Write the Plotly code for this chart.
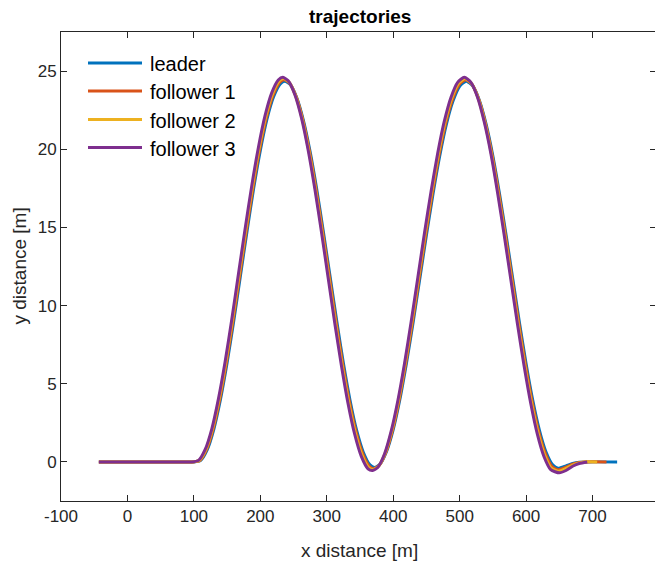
import plotly.graph_objects as go

# ---------------- data ----------------
leader_x = [-43, 0, 50, 90, 100, 110, 120, 130, 140, 150, 160, 170, 180, 190, 200, 210, 220, 230, 237,
            245, 255, 265, 275, 285, 295, 305, 315, 325, 335, 345, 355, 365, 372,
            380, 390, 400, 410, 420, 430, 440, 450, 460, 470, 480, 490, 500, 510,
            520, 530, 540, 550, 560, 570, 580, 590, 600, 610, 620, 630, 640, 648,
            660, 670, 680, 690, 737]
leader_y = [0, 0, 0, 0, 0, 0.09, 0.77, 2.09, 3.99, 6.34, 9.02, 11.89, 14.76, 17.50, 19.93, 21.93, 23.36, 24.18, 24.35,
            24.14, 23.28, 21.82, 19.83, 17.41, 14.70, 11.86, 9.01, 6.32, 3.95, 2.01, 0.62, -0.19, -0.35,
            -0.15, 0.67, 2.07, 3.99, 6.33, 8.94, 11.72, 14.51, 17.17, 19.57, 21.59, 23.08, 24.03, 24.35,
            24.03, 23.09, 21.57, 19.57, 17.15, 14.49, 11.70, 8.91, 6.28, 3.95, 2.03, 0.63, -0.19, -0.40,
            -0.25, -0.10, -0.02, 0, 0]

follower1_x = [-43, 0, 50, 89, 99, 109, 119, 129, 139, 149, 159, 169, 179, 189, 199, 209, 219, 229, 236,
               244, 254, 264, 274, 284, 294, 304, 314, 324, 334, 344, 354, 364, 371,
               379, 389, 399, 409, 419, 429, 439, 449, 459, 469, 479, 489, 499, 509,
               519, 529, 539, 549, 559, 569, 579, 589, 599, 609, 619, 629, 639, 648,
               660, 670, 680, 690, 721]
follower1_y = [0, 0, 0, 0, 0, 0.09, 0.78, 2.10, 4.01, 6.36, 9.05, 11.93, 14.80, 17.55, 19.99, 22.00, 23.44, 24.27, 24.45,
               24.23, 23.36, 21.88, 19.87, 17.43, 14.70, 11.84, 8.97, 6.27, 3.88, 1.93, 0.53, -0.28, -0.43,
               -0.22, 0.62, 2.04, 3.97, 6.32, 8.94, 11.74, 14.55, 17.22, 19.64, 21.67, 23.17, 24.12, 24.45,
               24.12, 23.17, 21.63, 19.62, 17.18, 14.50, 11.69, 8.88, 6.23, 3.88, 1.94, 0.53, -0.30, -0.50,
               -0.33, -0.15, -0.04, 0, 0]

follower2_x = [-43, 0, 50, 88, 98, 108, 118, 128, 138, 148, 158, 168, 178, 188, 198, 208, 218, 228, 235,
               243, 253, 263, 273, 283, 293, 303, 313, 323, 333, 343, 353, 363, 370,
               378, 388, 398, 408, 418, 428, 438, 448, 458, 468, 478, 488, 498, 508,
               518, 528, 538, 548, 558, 568, 578, 588, 598, 608, 618, 628, 638, 649,
               660, 670, 680, 690, 707]
follower2_y = [0, 0, 0, 0, 0, 0.09, 0.79, 2.11, 4.03, 6.38, 9.08, 11.96, 14.84, 17.59, 20.04, 22.06, 23.51, 24.35, 24.52,
               24.30, 23.42, 21.93, 19.90, 17.45, 14.70, 11.82, 8.93, 6.22, 3.81, 1.85, 0.44, -0.36, -0.48,
               -0.28, 0.57, 2.01, 3.95, 6.31, 8.95, 11.76, 14.59, 17.27, 19.70, 21.74, 23.25, 24.20, 24.52,
               24.20, 23.24, 21.69, 19.67, 17.21, 14.51, 11.68, 8.85, 6.18, 3.81, 1.85, 0.43, -0.40, -0.60,
               -0.42, -0.20, -0.06, 0.01, 0]

follower3_x = [-43, 0, 50, 87, 97, 107, 117, 127, 137, 147, 157, 167, 177, 187, 197, 207, 217, 227, 234,
               242, 252, 262, 272, 282, 292, 302, 312, 322, 332, 342, 352, 362, 369,
               377, 387, 397, 407, 417, 427, 437, 447, 457, 467, 477, 487, 497, 507,
               517, 527, 537, 547, 557, 567, 577, 587, 597, 607, 617, 627, 637, 650,
               660, 670, 680, 692]
follower3_y = [0, 0, 0, 0, 0, 0.10, 0.80, 2.12, 4.05, 6.41, 9.11, 12.00, 14.89, 17.64, 20.10, 22.13, 23.59, 24.43, 24.60,
               24.38, 23.49, 21.99, 19.94, 17.47, 14.70, 11.80, 8.89, 6.17, 3.74, 1.77, 0.35, -0.44, -0.55,
               -0.34, 0.52, 1.98, 3.93, 6.30, 8.96, 11.78, 14.63, 17.32, 19.76, 21.81, 23.33, 24.28, 24.60,
               24.28, 23.31, 21.75, 19.72, 17.24, 14.52, 11.67, 8.82, 6.13, 3.74, 1.76, 0.33, -0.50, -0.70,
               -0.55, -0.28, -0.10, 0]

series_names = ["leader", "follower 1", "follower 2", "follower 3"]
series_x = [leader_x, follower1_x, follower2_x, follower3_x]
series_y = [leader_y, follower1_y, follower2_y, follower3_y]
series_colors = ["#0072BD", "#D95319", "#EDB120", "#7E2F8E"]

x_ticks = [-100, 0, 100, 200, 300, 400, 500, 600, 700]
y_ticks = [0, 5, 10, 15, 20, 25]
x_range = [-100, 794]
y_range = [-2.5, 27.5]

title_text = "trajectories"
xlabel_text = "x distance [m]"
ylabel_text = "y distance [m]"

# ---------------- figure ----------------
W, H = 655, 565
ML, MT, MB, MR = 61, 32, 64, 0
PW, PH = W - ML - MR, H - MT - MB
FONT = "Liberation Sans, Arial, Helvetica, sans-serif"
AX = "#262626"

def px2paper_x(px):
    return (px - ML) / PW

def px2paper_y(py):
    return (H - MB - py) / PH

fig = go.Figure()
for name, xs, ys, col in zip(series_names, series_x, series_y, series_colors):
    fig.add_trace(go.Scatter(x=xs, y=ys, mode="lines", name=name,
                             line=dict(color=col, width=3, shape="spline", smoothing=0.6),
                             showlegend=False, hoverinfo="skip"))
# helper trace so the right-hand tick axis exists
fig.add_trace(go.Scatter(x=[None], y=[None], yaxis="y2", showlegend=False, hoverinfo="skip"))

axis_common = dict(showgrid=False, zeroline=False, showline=True, linecolor=AX, linewidth=1,
                   ticks="inside", ticklen=6, tickwidth=1, tickcolor=AX,
                   tickfont=dict(family=FONT, size=17, color=AX))

fig.update_layout(
    width=W, height=H,
    margin=dict(l=ML, r=MR, t=MT, b=MB, pad=0),
    paper_bgcolor="white", plot_bgcolor="white",
    xaxis=dict(range=x_range, tickvals=x_ticks, ticktext=[str(v) for v in x_ticks],
               mirror="ticks", **axis_common),
    yaxis=dict(range=y_range, tickvals=y_ticks, ticktext=[str(v) for v in y_ticks],
               mirror=False, **axis_common),
    yaxis2=dict(range=y_range, tickvals=y_ticks, overlaying="y", side="right",
                showticklabels=False, showgrid=False, zeroline=False, showline=False,
                ticks="inside", ticklen=5, tickwidth=1, tickcolor=AX),
    showlegend=False,
)

annotations = [
    dict(text="<b>" + title_text + "</b>", xref="x", yref="paper", x=350, y=px2paper_y(17),
         xanchor="center", yanchor="middle", showarrow=False,
         font=dict(family=FONT, size=19, color="#000000")),
    dict(text=xlabel_text, xref="x", yref="paper", x=350, y=px2paper_y(550),
         xanchor="center", yanchor="middle", showarrow=False,
         font=dict(family=FONT, size=19, color=AX)),
    dict(text=ylabel_text, xref="paper", yref="paper", x=px2paper_x(19), y=0.5,
         xanchor="center", yanchor="middle", textangle=-90, showarrow=False,
         font=dict(family=FONT, size=19, color=AX)),
]

# custom legend (MATLAB style, no box)
legend_rows = [63, 91, 119.5, 147.5]
shapes = []
for name, col, ry in zip(series_names, series_colors, legend_rows):
    shapes.append(dict(type="line", xref="paper", yref="paper",
                       x0=px2paper_x(88), x1=px2paper_x(142),
                       y0=px2paper_y(ry), y1=px2paper_y(ry),
                       line=dict(color=col, width=3)))
    annotations.append(dict(text=name, xref="paper", yref="paper",
                            x=px2paper_x(148), y=px2paper_y(ry + 1),
                            xanchor="left", yanchor="middle", showarrow=False,
                            font=dict(family=FONT, size=20, color="#000000")))

fig.update_layout(annotations=annotations, shapes=shapes)
fig.write_html("out.html")
